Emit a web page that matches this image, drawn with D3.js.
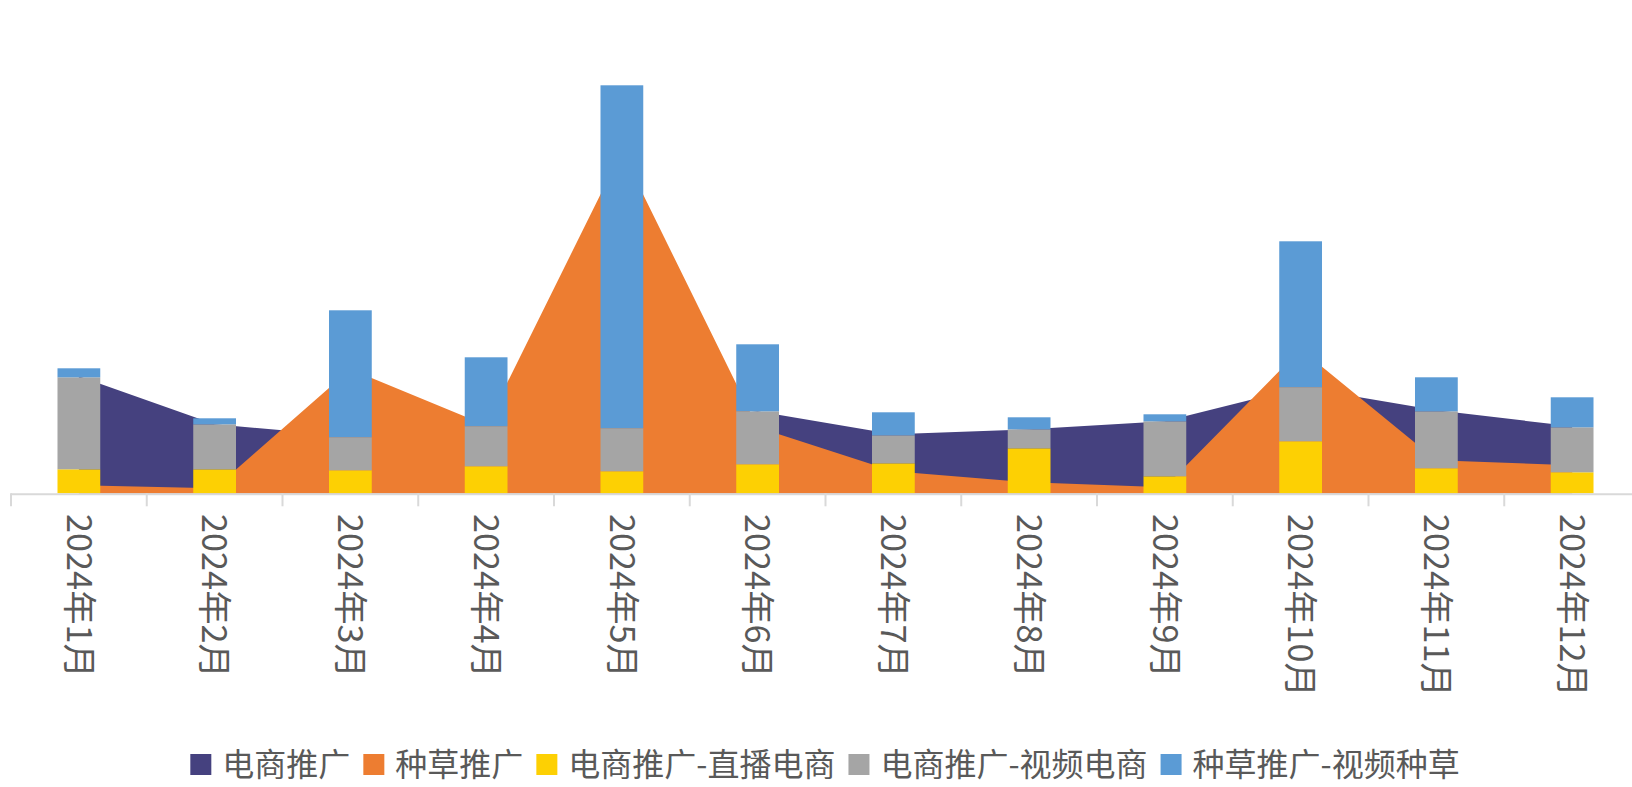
<!DOCTYPE html>
<html>
<head>
<meta charset="utf-8">
<script src="https://cdn.jsdelivr.net/npm/d3@7"></script>
<style>
  html, body { margin: 0; padding: 0; background: #fff; }
  svg { display: block; }
  text { font-family: "Noto Sans CJK SC", "Noto Sans", sans-serif; }
</style>
</head>
<body>
<svg id="chart" width="1632" height="787"></svg>
<script>
// ---- data ----
const months = ['2024年1月','2024年2月','2024年3月','2024年4月','2024年5月','2024年6月',
                '2024年7月','2024年8月','2024年9月','2024年10月','2024年11月','2024年12月'];
const ecomPromo   = [117, 69, 57, 67, 65, 82, 59, 64, 72, 106, 83, 67];   // 电商推广 (area)
const seedPromo   = [8, 5, 124, 68, 342, 66, 22, 11, 6, 144, 33, 28];     // 种草推广 (area)
const liveEcom    = [24, 24, 23, 27, 22, 29, 30, 45, 17, 52, 25, 21];     // 电商推广-直播电商
const videoEcom   = [92, 45, 33, 40, 43, 53, 28, 19, 55, 54, 57, 45];     // 电商推广-视频电商
const videoSeed   = [9, 6, 127, 69, 343, 67, 23, 12, 7, 146, 34, 30];     // 种草推广-视频种草
const seriesNames = ['电商推广','种草推广','电商推广-直播电商','电商推广-视频电商','种草推广-视频种草'];
const seriesColors = ['#45417f','#ed7d31','#fdd003','#a5a5a5','#5b9bd5'];

// ---- layout ----
const svg = d3.select('#chart');
const W = 1632, H = 787;
svg.append('rect').attr('width', W).attr('height', H).attr('fill', '#fff');

const plotLeft = 11, plotRight = 1640, baseY = 493.3;
const x = d3.scaleBand().domain(months).range([plotLeft, plotRight])
  .paddingInner(0.685).paddingOuter(0.3425);
const y = d3.scaleLinear().domain([0, 400]).range([baseY, baseY - 400]);
const cx = m => x(m) + x.bandwidth() / 2;

// ---- areas ----
const area = d3.area()
  .x((d, i) => cx(months[i]))
  .y0(y(0))
  .y1(d => y(d));
svg.append('path').datum(ecomPromo).attr('d', area).attr('fill', seriesColors[0]);
svg.append('path').datum(seedPromo).attr('d', area).attr('fill', seriesColors[1]);

// ---- stacked bars ----
const table = months.map((m, i) => ({ month: m, live: liveEcom[i], video: videoEcom[i], seed: videoSeed[i] }));
const stack = d3.stack().keys(['live', 'video', 'seed'])(table);
const barColors = [seriesColors[2], seriesColors[3], seriesColors[4]];
svg.append('g').selectAll('g').data(stack).join('g')
  .attr('fill', (d, i) => barColors[i])
  .selectAll('rect').data(d => d).join('rect')
  .attr('x', d => x(d.data.month))
  .attr('width', x.bandwidth())
  .attr('y', d => y(d[1]))
  .attr('height', d => y(d[0]) - y(d[1]));

// ---- x axis ----
const step = x.step();
const boundaries = d3.range(months.length + 1).map(i => plotLeft + i * step);
const axisG = svg.append('g');
axisG.append('line').attr('x1', plotLeft).attr('x2', plotRight)
  .attr('y1', baseY + 1).attr('y2', baseY + 1)
  .attr('stroke', '#d9d9d9').attr('stroke-width', 2);
axisG.selectAll('line.tick').data(boundaries).join('line').attr('class', 'tick')
  .attr('x1', d => d).attr('x2', d => d)
  .attr('y1', baseY).attr('y2', baseY + 13)
  .attr('stroke', '#d9d9d9').attr('stroke-width', 2);
axisG.selectAll('text').data(months).join('text')
  .attr('transform', d => `translate(${cx(d)},${514}) rotate(90)`)
  .attr('text-anchor', 'start')
  .attr('dy', '0.36em')
  .attr('fill', '#595959')
  .attr('font-size', 34.3)
  .text(d => d);

// ---- legend ----
const legend = svg.append('g');
const items = legend.selectAll('g').data(seriesNames).join('g');
items.append('rect').attr('width', 21).attr('height', 21).attr('y', 754)
  .attr('fill', (d, i) => seriesColors[i]);
items.append('text').attr('x', 32).attr('y', 764.5).attr('dy', '0.36em')
  .attr('fill', '#595959').attr('font-size', 32).text(d => d);
let cursor = 0;
items.each(function () {
  const g = d3.select(this);
  const tw = g.select('text').node().getComputedTextLength();
  g.attr('transform', `translate(${cursor},0)`);
  cursor += 32 + tw + 13;
});
const total = cursor - 13;
legend.attr('transform', `translate(${825 - total / 2},0)`);
</script>
</body>
</html>
